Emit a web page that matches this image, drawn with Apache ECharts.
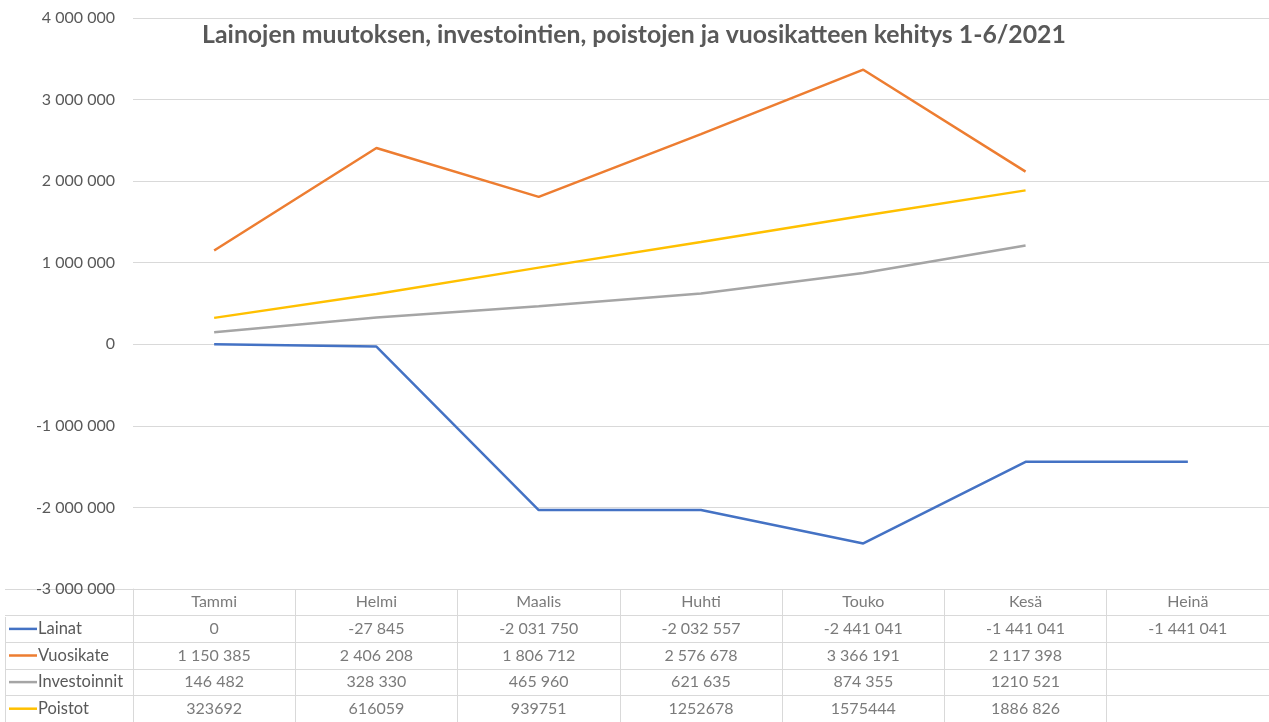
<!DOCTYPE html>
<html>
<head>
<meta charset="utf-8">
<script src="https://cdn.jsdelivr.net/npm/echarts@6/dist/echarts.min.js"></script>
<style>
  html, body { margin: 0; padding: 0; background: #fff; }
  #chart { width: 1269px; height: 722px; }
</style>
</head>
<body>
<div id="chart"></div>
<script>
// Kuukaudet ja sarjat
const months = ["Tammi", "Helmi", "Maalis", "Huhti", "Touko", "Kesä", "Heinä"];
const seriesNames = ["Lainat", "Vuosikate", "Investoinnit", "Poistot"];
const seriesColors = ["#4472C4", "#ED7D31", "#A5A5A5", "#FFC000"];

const lainat = [0, -27845, -2031750, -2032557, -2441041, -1441041, -1441041];
const vuosikate = [1150385, 2406208, 1806712, 2576678, 3366191, 2117398, null];
const investoinnit = [146482, 328330, 465960, 621635, 874355, 1210521, null];
const poistot = [323692, 616059, 939751, 1252678, 1575444, 1886826, null];

// Taulukon tekstit sellaisenaan kuin lähteessä
const lainatText = ["0", "-27 845", "-2 031 750", "-2 032 557", "-2 441 041", "-1 441 041", "-1 441 041"];
const vuosikateText = ["1 150 385", "2 406 208", "1 806 712", "2 576 678", "3 366 191", "2 117 398", ""];
const investoinnitText = ["146 482", "328 330", "465 960", "621 635", "874 355", "1210 521", ""];
const poistotText = ["323692", "616059", "939751", "1252678", "1575444", "1886 826", ""];

const yTicks = { min: -3000000, max: 4000000, interval: 1000000 };

const FONT = "Lato";
const GRID_COLOR = "#d9d9d9";
const TEXT_COLOR = "#595959";

const fmtSpace = (v) => String(v).replace(/\B(?=(\d{3})+(?!\d))/g, " ");

const values = [lainat, vuosikate, investoinnit, poistot];
const texts = [lainatText, vuosikateText, investoinnitText, poistotText];

// Taulukon solut: otsikkorivi + arvorivit
const tableCells = [];
months.forEach((m, i) => tableCells.push({ value: [i, 0], label: m }));
texts.forEach((row, r) => {
    row.forEach((t, i) => {
        if (t !== "") tableCells.push({ value: [i, r + 1], label: t });
    });
});

const rowLabels = [""].concat(seriesNames);
const rich = {};
seriesNames.forEach((n, i) => {
    rich["l" + i] = { backgroundColor: seriesColors[i], width: 28, height: 2.5 };
});
rich.t = { fontFamily: FONT, fontSize: 16.5, color: TEXT_COLOR, padding: [0, 0, 0, 1] };

const chart = echarts.init(document.getElementById("chart"));
chart.setOption({
    animation: false,
    title: {
        text: "Lainojen muutoksen, investointien, poistojen ja vuosikatteen kehitys 1-6/2021",
        left: 629,
        top: 18,
        textAlign: "center",
        textStyle: { fontFamily: FONT, fontSize: 24.8, fontWeight: "bold", color: TEXT_COLOR },
    },
    grid: [
        { left: 133, right: 0, top: 18, height: 571 },
        { left: 133, right: 0, top: 589, height: 137.5 },
    ],
    xAxis: [
        {
            gridIndex: 0,
            type: "category",
            data: months,
            boundaryGap: true,
            show: false,
        },
        {
            gridIndex: 1,
            type: "category",
            data: months,
            boundaryGap: true,
            axisLine: { show: false },
            axisTick: { show: false },
            axisLabel: { show: false },
            splitLine: { show: true, lineStyle: { color: GRID_COLOR, width: 1 } },
        },
    ],
    yAxis: [
        {
            gridIndex: 0,
            type: "value",
            min: yTicks.min,
            max: yTicks.max,
            interval: yTicks.interval,
            axisLine: { show: false },
            axisTick: { show: false },
            axisLabel: {
                margin: 18,
                fontFamily: FONT,
                fontSize: 16,
                color: TEXT_COLOR,
                formatter: (v) => (v < 0 ? "-" + fmtSpace(-v) : fmtSpace(v)),
            },
            splitLine: { lineStyle: { color: GRID_COLOR, width: 1 } },
        },
        {
            gridIndex: 1,
            type: "category",
            data: rowLabels,
            inverse: true,
            axisLine: { show: true, lineStyle: { color: GRID_COLOR, width: 1 } },
            axisTick: {
                show: true,
                length: 128,
                interval: 0,
                lineStyle: { color: GRID_COLOR, width: 1 },
            },
            axisLabel: {
                margin: 124,
                align: "left",
                interval: 0,
                formatter: (v, i) => (i === 0 ? "" : `{l${i - 1}|}{t|${v}}`),
                rich: rich,
            },
            splitLine: { show: true, lineStyle: { color: GRID_COLOR, width: 1 } },
        },
    ],
    graphic: [
        {
            type: "line",
            shape: { x1: 5.5, y1: 617, x2: 5.5, y2: 722 },
            style: { stroke: GRID_COLOR, lineWidth: 1 },
        },
    ],
    series: values.map((data, i) => ({
        name: seriesNames[i],
        type: "line",
        xAxisIndex: 0,
        yAxisIndex: 0,
        data: data,
        showSymbol: false,
        symbol: "none",
        lineStyle: { color: seriesColors[i], width: 2.5 },
        itemStyle: { color: seriesColors[i] },
    })).concat([
        {
            name: "taulukko",
            type: "scatter",
            xAxisIndex: 1,
            yAxisIndex: 1,
            symbol: "rect",
            symbolSize: 1,
            itemStyle: { color: "rgba(0,0,0,0)" },
            silent: true,
            data: tableCells,
            label: {
                show: true,
                position: "inside",
                formatter: (p) => p.data.label,
                fontFamily: FONT,
                fontSize: 16,
                color: TEXT_COLOR,
            },
        },
    ]),
});
</script>
</body>
</html>
